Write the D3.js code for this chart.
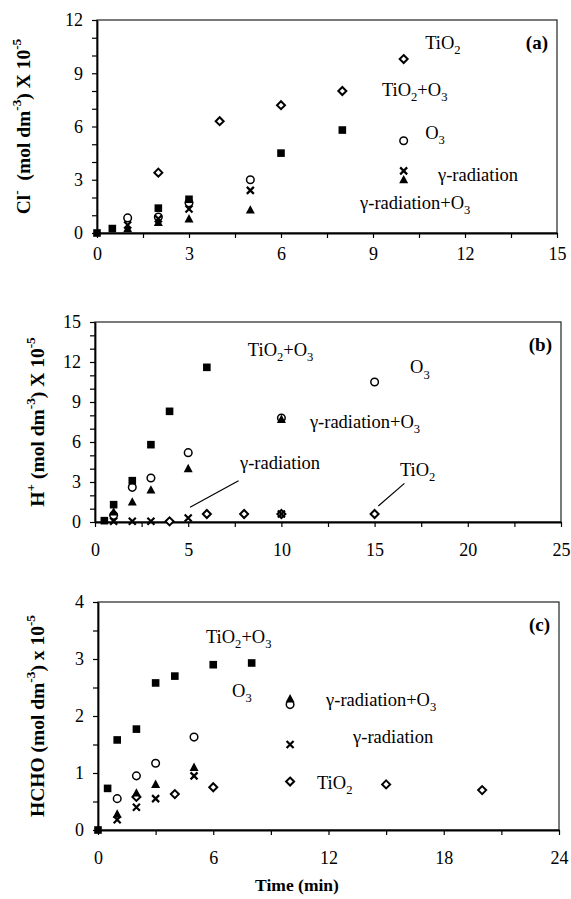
<!DOCTYPE html>
<html>
<head>
<meta charset="utf-8">
<script src="https://cdn.jsdelivr.net/npm/d3@7"></script>
<title>Cl-, H+ and HCHO vs time</title>
<style>
body { margin:0; background:#fff; }
text { font-family:"Liberation Serif","Times New Roman",serif; fill:#000; }
</style>
</head>
<body>
<div id="chart"></div>
<script>
// ---- data (time in min, concentration x 10^-5 mol dm^-3) ----
// panel (a) Cl-
var clTiO2    = [[2,3.4],[4,6.3],[6,7.2],[8,8.0],[10,9.8]];
var clTiO2O3  = [[0,0],[0.5,0.25],[2,1.4],[3,1.9],[6,4.5],[8,5.8]];
var clO3      = [[1,0.85],[2,0.9],[3,1.7],[5,3.0],[10,5.2]];
var clGamma   = [[1,0.45],[2,0.8],[3,1.35],[5,2.4],[10,3.5]];
var clGammaO3 = [[1,0.25],[2,0.6],[3,0.8],[5,1.3],[10,3.0]];

// panel (b) H+
var hTiO2    = [[4,0.05],[6,0.6],[8,0.6],[10,0.6],[15,0.6]];
var hTiO2O3  = [[0.5,0.1],[1,1.3],[2,3.1],[3,5.8],[4,8.3],[6,11.6]];
var hO3      = [[1,0.5],[2,2.6],[3,3.3],[5,5.2],[10,7.8],[15,10.5]];
var hGamma   = [[1,0.05],[2,0.05],[3,0.05],[5,0.3],[10,0.6]];
var hGammaO3 = [[1,0.75],[2,1.5],[3,2.4],[5,4.0],[10,7.7]];

// panel (c) HCHO
var fTiO2    = [[2,0.58],[4,0.63],[6,0.75],[10,0.85],[15,0.8],[20,0.7]];
var fTiO2O3  = [[0,0],[0.5,0.73],[1,1.58],[2,1.77],[3,2.58],[4,2.7],[6,2.9],[8,2.93]];
var fO3      = [[1,0.55],[2,0.95],[3,1.17],[5,1.63],[10,2.2]];
var fGamma   = [[1,0.18],[2,0.4],[3,0.55],[5,0.95],[10,1.5]];
var fGammaO3 = [[1,0.28],[2,0.65],[3,0.8],[5,1.1],[10,2.3]];

// axis ranges / ticks
var xMax   = [15, 25, 24];
var xMajor = [3, 5, 6];
var xMinor = [1.5, 2.5, 3];
var yMax   = [12, 15, 4];
var yMajor = [3, 3, 1];
var yMinor = [1, 1, 0.5];

var yTitles = ["Cl^{-}\u00a0 (mol dm^{-3}) X 10^{-5}",
               "H^{+} (mol dm^{-3}) X 10^{-5}",
               "HCHO (mol dm^{-3}) x 10^{-5}"];
var panelTags = ["(a)", "(b)", "(c)"];

// in-plot series labels [text, x, y] in data units
var labelsA = [["TiO_{2}",10.7,10.37],["TiO_{2}+O_{3}",9.29,7.72],["O_{3}",10.7,5.3],
               ["γ-radiation",11.12,2.93],["γ-radiation+O_{3}",8.58,1.35]];
var labelsB = [["TiO_{2}+O_{3}",8.2,12.43],["O_{3}",16.9,11.15],["γ-radiation+O_{3}",11.53,7.03],
               ["γ-radiation",7.78,3.95],["TiO_{2}",16.36,3.43]];
var labelsC = [["TiO_{2}+O_{3}",5.62,3.28],["O_{3}",6.98,2.33],["γ-radiation+O_{3}",11.875,2.18],
               ["γ-radiation",13.28,1.53],["TiO_{2}",11.4,0.72]];
// leader lines in panel (b) [x1,y1,x2,y2]
var leadersB = [[5.1,1.1,7.7,3.1],[15.2,1.2,16.6,2.9]];

var W = 571, H = 899;
var boxes = [
  {l:97, r:557, t:20,  b:233, titleX:26, xPad:9},
  {l:95, r:561, t:322, b:522, titleX:40, xPad:16},
  {l:98, r:559, t:602, b:830, titleX:40, xPad:16}
];
var panels = [
  {series:[clTiO2, clO3, clGamma, clGammaO3, clTiO2O3], labels:labelsA, leaders:[]},
  {series:[hTiO2, hO3, hGamma, hGammaO3, hTiO2O3], labels:labelsB, leaders:leadersB},
  {series:[fTiO2, fO3, fGamma, fGammaO3, fTiO2O3], labels:labelsC, leaders:[]}
];
// marker per series position: diamond, circle, cross, triangle, square
var markers = ["diamond","circle","cross","triangle","square"];

var svg = d3.select("#chart").append("svg")
  .attr("width", W).attr("height", H);

function richText(sel, str, size) {
  var parts = str.split(/([_^]\{[^}]*\})/).filter(function(s){ return s.length; });
  var cur = 0;
  parts.forEach(function(p) {
    var shift = 0, t = p, small = false;
    if (p[0] == "_") { shift = 0.28*size; t = p.slice(2,-1); small = true; }
    else if (p[0] == "^") { shift = -0.42*size; t = p.slice(2,-1); small = true; }
    var ts = sel.append("tspan").attr("dy", shift - cur).text(t);
    if (small) ts.attr("font-size", 0.68*size);
    cur = shift;
  });
}

function drawMarker(g, type) {
  if (type == "diamond") {
    g.append("path").attr("d","M0,-4L4,0L0,4L-4,0Z")
      .attr("fill","#fff").attr("stroke","#000").attr("stroke-width",2);
  } else if (type == "circle") {
    g.append("circle").attr("r",3.8)
      .attr("fill","#fff").attr("stroke","#000").attr("stroke-width",1.5);
  } else if (type == "cross") {
    g.append("path").attr("d","M-3.5,-3.5L3.5,3.5M-3.5,3.5L3.5,-3.5")
      .attr("stroke","#000").attr("stroke-width",2.2).attr("fill","none");
  } else if (type == "triangle") {
    g.append("path").attr("d","M0,-4.8L4.5,3.6L-4.5,3.6Z").attr("fill","#000");
  } else {
    g.append("rect").attr("x",-3.8).attr("y",-3.8).attr("width",7.6).attr("height",7.6)
      .attr("fill","#000");
  }
}

panels.forEach(function(p, i) {
  var bx = boxes[i];
  var x = d3.scaleLinear().domain([0, xMax[i]]).range([bx.l, bx.r]);
  var y = d3.scaleLinear().domain([0, yMax[i]]).range([bx.b, bx.t]);
  var g = svg.append("g");

  // frame
  g.append("rect").attr("x",bx.l).attr("y",bx.t)
    .attr("width",bx.r-bx.l).attr("height",bx.b-bx.t)
    .attr("fill","none").attr("stroke","#222").attr("stroke-width",1.2);

  var isMajorX = function(d){ return Math.abs(d/xMajor[i] - Math.round(d/xMajor[i])) < 1e-6; };
  var isMajorY = function(d){ return Math.abs(d/yMajor[i] - Math.round(d/yMajor[i])) < 1e-6; };

  var xAxis = d3.axisBottom(x)
    .tickValues(d3.range(0, xMax[i]+1e-6, xMinor[i]))
    .tickFormat(function(d){ return isMajorX(d) ? d : ""; })
    .tickSize(5).tickSizeOuter(0).tickPadding(bx.xPad);
  var gx = g.append("g").attr("transform","translate(0,"+bx.b+")").call(xAxis);

  var yAxis = d3.axisLeft(y)
    .tickValues(d3.range(0, yMax[i]+1e-6, yMinor[i]))
    .tickFormat(function(d){ return isMajorY(d) ? d : ""; })
    .tickSize(5).tickSizeOuter(0).tickPadding(9);
  var gy = g.append("g").attr("transform","translate("+bx.l+",0)").call(yAxis);

  [gx, gy].forEach(function(a) {
    a.select(".domain").attr("stroke","#000").attr("stroke-width",1.8);
    a.selectAll(".tick line").attr("stroke","#000").attr("stroke-width",1.2);
    a.selectAll(".tick text").attr("font-size",18)
      .attr("font-family","'Liberation Serif','Times New Roman',serif");
  });

  // y title
  var yt = g.append("text")
    .attr("transform","translate("+bx.titleX+","+((bx.t+bx.b)/2)+") rotate(-90)")
    .attr("text-anchor","middle").attr("dominant-baseline","middle")
    .attr("font-size",19.5).attr("font-weight","bold");
  richText(yt, yTitles[i], 19.5);

  // panel tag
  g.append("text").attr("x", bx.r-9).attr("y", bx.t+29)
    .attr("text-anchor","end").attr("font-size",19).attr("font-weight","bold")
    .text(panelTags[i]);

  // leader lines
  g.selectAll(".leader").data(p.leaders).enter().append("line")
    .attr("x1",function(d){ return x(d[0]); }).attr("y1",function(d){ return y(d[1]); })
    .attr("x2",function(d){ return x(d[2]); }).attr("y2",function(d){ return y(d[3]); })
    .attr("stroke","#000").attr("stroke-width",1.2);

  // points
  p.series.forEach(function(s, k) {
    g.selectAll(".m"+k).data(s).enter().append("g")
      .attr("transform",function(d){ return "translate("+x(d[0])+","+y(d[1])+")"; })
      .each(function(){ drawMarker(d3.select(this), markers[k]); });
  });

  // series labels
  p.labels.forEach(function(l) {
    var t = g.append("text").attr("x", x(l[1])).attr("y", y(l[2])).attr("font-size",18.5);
    richText(t, l[0], 18.5);
  });
});

svg.append("text").attr("x", 297).attr("y", 891)
  .attr("text-anchor","middle").attr("font-size",17.5).attr("font-weight","bold")
  .text("Time (min)");
</script>
</body>
</html>
